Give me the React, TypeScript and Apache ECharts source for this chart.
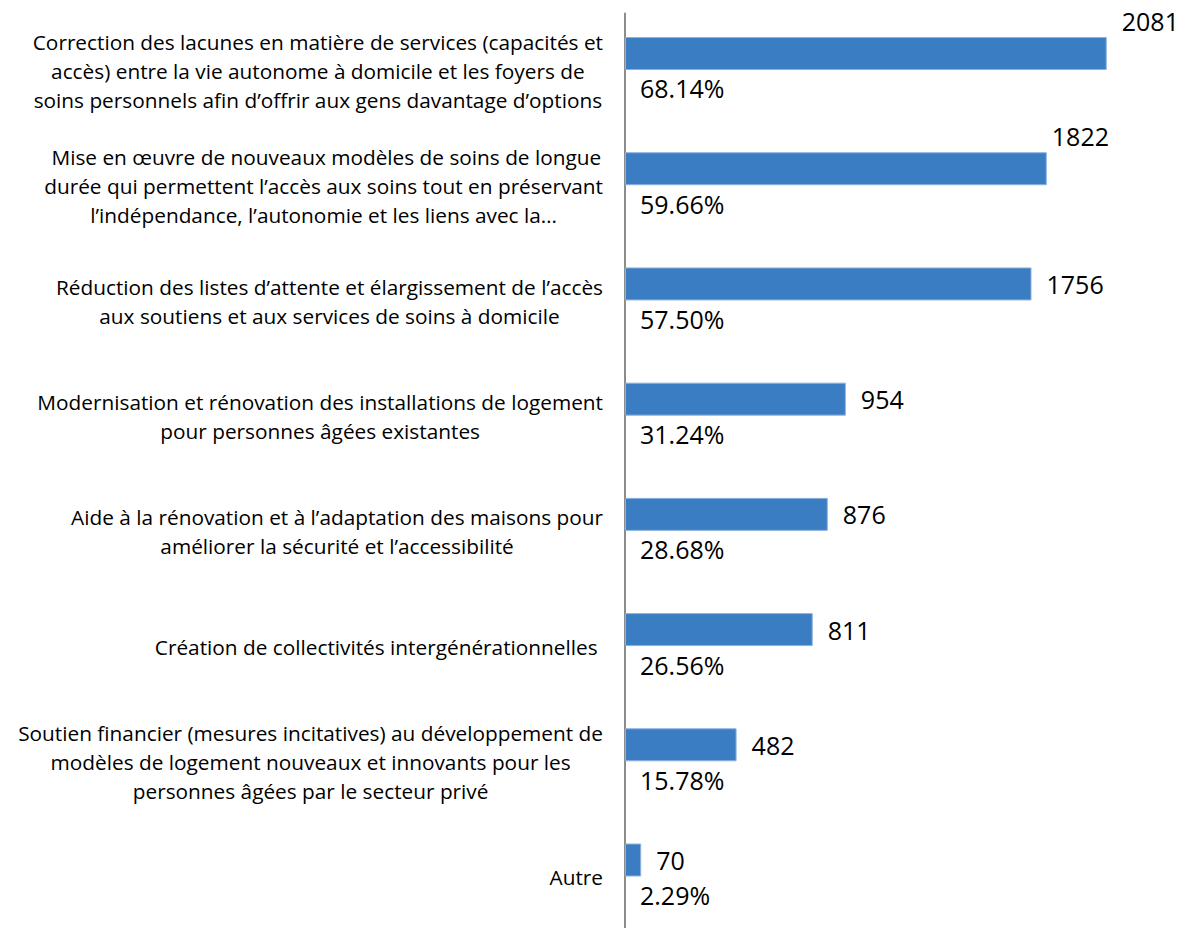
import React, { useEffect, useRef } from "react";
import * as echarts from "echarts";

const categories: string[] = [
  "Correction des lacunes en matière de services (capacités et\naccès) entre la vie autonome à domicile et les foyers de\nsoins personnels afin d’offrir aux gens davantage d’options",
  " Mise en œuvre de nouveaux modèles de soins de longue\ndurée qui permettent l’accès aux soins tout en préservant\nl’indépendance, l’autonomie et les liens avec la…",
  "Réduction des listes d’attente et élargissement de l’accès\naux soutiens et aux services de soins à domicile",
  "Modernisation et rénovation des installations de logement\npour personnes âgées existantes",
  "Aide à la rénovation et à l’adaptation des maisons pour\naméliorer la sécurité et l’accessibilité",
  "Création de collectivités intergénérationnelles ",
  "Soutien financier (mesures incitatives) au développement de\nmodèles de logement nouveaux et innovants pour les\npersonnes âgées par le secteur privé",
  "Autre",
];

const counts: number[] = [2081, 1822, 1756, 954, 876, 811, 482, 70];
const percents: number[] = [68.14, 59.66, 57.5, 31.24, 28.68, 26.56, 15.78, 2.29];

const FONT = "'Open Sans', sans-serif";
const CAT_SIZE = 20.8;

export default function App() {
  const ref = useRef<HTMLDivElement>(null);

  useEffect(() => {
    document.body.style.margin = "0";
    document.body.style.overflow = "hidden";
    document.documentElement.style.overflow = "hidden";
    if (!ref.current) return;
    const chart = echarts.init(ref.current, null, { renderer: "svg" });

    const valueLabelOffsets: Record<number, number[]> = {
      0: [0, -33],
      1: [-10, -33],
    };

    chart.setOption({
      animation: false,
      backgroundColor: "#ffffff",
      grid: { left: 625, right: 5.4, top: 13.4, bottom: 0.9, containLabel: false },
      xAxis: {
        type: "value",
        min: 0,
        max: 2400,
        show: false,
      },
      yAxis: {
        type: "category",
        inverse: true,
        data: categories,
        axisLine: { show: true, lineStyle: { color: "#8C8C8C", width: 2 } },
        axisTick: { show: false },
        splitLine: { show: false },
        axisLabel: {
          margin: 22,
          color: "#000000",
          fontFamily: FONT,
          fontSize: CAT_SIZE,
          lineHeight: 29,
          formatter: (v: string) =>
            v
              .split("\n")
              .map((l) => `{c|${l}}`)
              .join("\n"),
          rich: {
            c: {
              align: "center",
              fontFamily: FONT,
              fontSize: CAT_SIZE,
              lineHeight: 29,
              color: "#000000",
            },
          },
        },
      },
      series: [
        {
          type: "bar",
          data: counts.map((v, i) => ({
            value: v,
            label: valueLabelOffsets[i] ? { offset: valueLabelOffsets[i] } : undefined,
          })),
          barWidth: 33,
          barGap: "6%",
          itemStyle: { color: "#3B7DC3", borderColor: "#8EB2DE", borderWidth: 1 },
          label: {
            show: true,
            position: "right",
            distance: 15,
            color: "#000000",
            fontFamily: FONT,
            fontSize: 25,
            formatter: (p: any) => String(p.value),
          },
          silent: true,
        },
        {
          type: "bar",
          data: percents,
          barWidth: 33,
          barGap: "6%",
          itemStyle: { color: "rgba(0,0,0,0)" },
          label: {
            show: true,
            position: "insideLeft",
            distance: 15,
            color: "#000000",
            fontFamily: FONT,
            fontSize: 25,
            formatter: (p: any) => Number(p.value).toFixed(2) + "%",
          },
          silent: true,
        },
      ],
    });

    return () => chart.dispose();
  }, []);

  return <div ref={ref} style={{ width: 1186, height: 936 }} />;
}
